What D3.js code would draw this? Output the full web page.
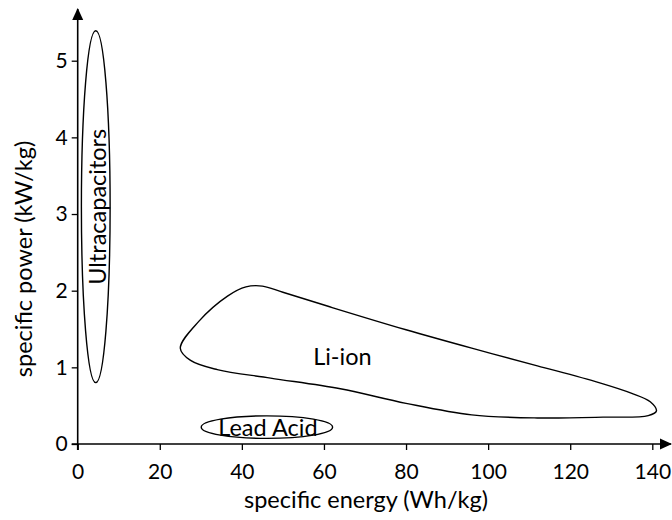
<!DOCTYPE html>
<html>
<head>
<meta charset="utf-8">
<script src="https://cdn.jsdelivr.net/npm/d3@7"></script>
<style>
  body { margin: 0; background: #fff; }
  text { font-family: Lato, "Open Sans", sans-serif; fill: #000; }
</style>
</head>
<body>
<svg id="chart" width="672" height="520"></svg>
<script>
// tick values
var xTicks = [0, 20, 40, 60, 80, 100, 120, 140];
var yTicks = [0, 1, 2, 3, 4, 5];

// regions: energy range (Wh/kg), power range (kW/kg)
var ultraEnergy = [0.9, 7.9];
var ultraPower = [0.8, 5.39];
var leadEnergy = [30.1, 62.1];
var leadPower = [0.073, 0.367];

// Li-ion outline [energy, power]
var liionOutline = [
  [25, 1.25], [29.5, 1.6], [36.5, 1.93], [41, 2.05], [45, 2.06], [50, 1.98],
  [62, 1.78], [80, 1.49], [96, 1.25], [112, 1.02], [127, 0.8], [135, 0.66],
  [139.5, 0.55], [141, 0.43], [139, 0.37], [128, 0.35], [112, 0.34],
  [96, 0.38], [80, 0.53], [64, 0.72], [47, 0.86], [34, 0.97], [27.5, 1.09]
];
var liionLabelAt = [64.5, 1.15];

var categories = ["Ultracapacitors", "Li-ion", "Lead Acid"];

var svg = d3.select("#chart");

var x = d3.scaleLinear().domain([0, 140]).range([77.7, 652.3]);
var y = d3.scaleLinear().domain([0, 5]).range([444, 60.7]);

// arrow heads
var defs = svg.append("defs");
defs.append("marker")
  .attr("id", "arrow")
  .attr("viewBox", "0 0 12 12")
  .attr("refX", 11).attr("refY", 6)
  .attr("markerWidth", 12).attr("markerHeight", 12)
  .attr("markerUnits", "userSpaceOnUse")
  .attr("orient", "auto")
  .append("path")
  .attr("d", "M0,0.5 L12,6 L0,11.5 Z")
  .attr("fill", "#000");

// x axis
var xAxis = svg.append("g")
  .attr("transform", "translate(0," + y(0) + ")")
  .call(d3.axisBottom(x).tickValues(xTicks).tickFormat(d3.format("d"))
    .tickSize(6).tickSizeOuter(0).tickPadding(14));
xAxis.select(".domain").remove();
xAxis.selectAll("text").style("font-size", "21px");
xAxis.selectAll("line").attr("stroke-width", 1.3);

// y axis
var yAxis = svg.append("g")
  .attr("transform", "translate(" + x(0) + ",0)")
  .call(d3.axisLeft(y).tickValues(yTicks).tickFormat(d3.format("d"))
    .tickSize(6).tickSizeOuter(0).tickPadding(4));
yAxis.select(".domain").remove();
yAxis.selectAll("text").style("font-size", "21px");
yAxis.selectAll("line").attr("stroke-width", 1.3);

// axis lines with arrows
svg.append("line")
  .attr("x1", x(0) - 6).attr("y1", y(0))
  .attr("x2", 671).attr("y2", y(0))
  .attr("stroke", "#000").attr("stroke-width", 1.6)
  .attr("marker-end", "url(#arrow)");
svg.append("line")
  .attr("x1", x(0)).attr("y1", y(0) + 6)
  .attr("x2", x(0)).attr("y2", 9)
  .attr("stroke", "#000").attr("stroke-width", 1.6)
  .attr("marker-end", "url(#arrow)");

// axis titles
svg.append("text")
  .attr("x", 366).attr("y", 508)
  .attr("text-anchor", "middle")
  .style("font-size", "23.5px")
  .text("specific energy (Wh/kg)");
svg.append("text")
  .attr("transform", "translate(32,259) rotate(-90)")
  .attr("text-anchor", "middle")
  .style("font-size", "23.5px")
  .text("specific power (kW/kg)");

// ultracapacitors
var ucx = (ultraEnergy[0] + ultraEnergy[1]) / 2, ucy = (ultraPower[0] + ultraPower[1]) / 2;
svg.append("ellipse")
  .attr("cx", x(ucx)).attr("cy", y(ucy))
  .attr("rx", (x(ultraEnergy[1]) - x(ultraEnergy[0])) / 2)
  .attr("ry", (y(ultraPower[0]) - y(ultraPower[1])) / 2)
  .attr("fill", "none").attr("stroke", "#000").attr("stroke-width", 1.4);
svg.append("text")
  .attr("transform", "translate(" + (x(ucx) + 10) + "," + y(ucy) + ") rotate(-90)")
  .attr("text-anchor", "middle")
  .style("font-size", "23.5px")
  .text(categories[0]);

// li-ion
svg.append("path")
  .datum(liionOutline)
  .attr("d", d3.line()
    .x(function(d) { return x(d[0]); })
    .y(function(d) { return y(d[1]); })
    .curve(d3.curveCatmullRomClosed.alpha(0.5)))
  .attr("fill", "none").attr("stroke", "#000").attr("stroke-width", 1.4);
svg.append("text")
  .attr("x", x(liionLabelAt[0])).attr("y", y(liionLabelAt[1]))
  .attr("text-anchor", "middle")
  .attr("dominant-baseline", "central")
  .style("font-size", "23.5px")
  .text(categories[1]);

// lead acid
var lcx = (leadEnergy[0] + leadEnergy[1]) / 2, lcy = (leadPower[0] + leadPower[1]) / 2;
svg.append("ellipse")
  .attr("cx", x(lcx)).attr("cy", y(lcy))
  .attr("rx", (x(leadEnergy[1]) - x(leadEnergy[0])) / 2)
  .attr("ry", (y(leadPower[0]) - y(leadPower[1])) / 2)
  .attr("fill", "none").attr("stroke", "#000").attr("stroke-width", 1.4);
svg.append("text")
  .attr("x", x(lcx) + 1).attr("y", y(lcy) + 8.5)
  .attr("text-anchor", "middle")
  .style("font-size", "23.5px")
  .text(categories[2]);
</script>
</body>
</html>
